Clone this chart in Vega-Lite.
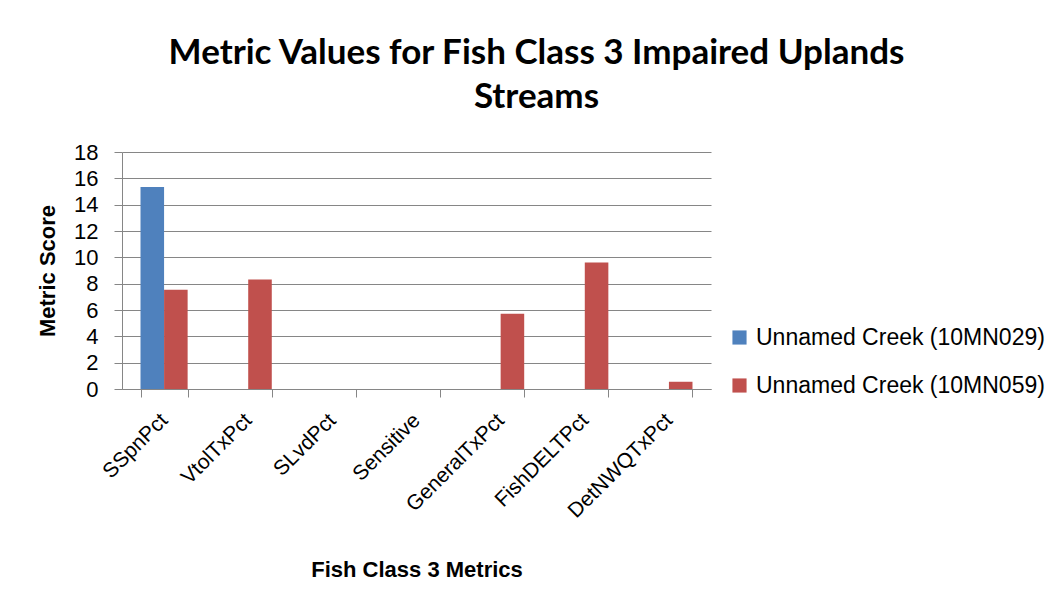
{
  "$schema": "https://vega.github.io/schema/vega-lite/v6.json",
  "autosize": {"type": "none"},
  "padding": {"left": 122, "top": 152, "right": 345, "bottom": 208},
  "width": 589,
  "height": 237,
  "background": "white",
  "title": {
    "text": ["Metric Values for Fish Class 3 Impaired Uplands", "Streams"],
    "font": "Lato",
    "fontWeight": "bold",
    "fontSize": 35,
    "lineHeight": 44,
    "color": "#000000",
    "anchor": "middle",
    "frame": "group",
    "dx": 120,
    "offset": 26
  },
  "data": {
    "values": [
      {"metric": "SSpnPct", "site": "Unnamed Creek (10MN029)", "value": 15.35},
      {"metric": "SSpnPct", "site": "Unnamed Creek (10MN059)", "value": 7.53},
      {"metric": "VtolTxPct", "site": "Unnamed Creek (10MN029)", "value": 0},
      {"metric": "VtolTxPct", "site": "Unnamed Creek (10MN059)", "value": 8.31},
      {"metric": "SLvdPct", "site": "Unnamed Creek (10MN029)", "value": 0},
      {"metric": "SLvdPct", "site": "Unnamed Creek (10MN059)", "value": 0},
      {"metric": "Sensitive", "site": "Unnamed Creek (10MN029)", "value": 0},
      {"metric": "Sensitive", "site": "Unnamed Creek (10MN059)", "value": 0},
      {"metric": "GeneralTxPct", "site": "Unnamed Creek (10MN029)", "value": 0},
      {"metric": "GeneralTxPct", "site": "Unnamed Creek (10MN059)", "value": 5.71},
      {"metric": "FishDELTPct", "site": "Unnamed Creek (10MN029)", "value": 0},
      {"metric": "FishDELTPct", "site": "Unnamed Creek (10MN059)", "value": 9.6},
      {"metric": "DetNWQTxPct", "site": "Unnamed Creek (10MN029)", "value": 0},
      {"metric": "DetNWQTxPct", "site": "Unnamed Creek (10MN059)", "value": 0.55}
    ]
  },
  "mark": {"type": "bar"},
  "encoding": {
    "x": {
      "field": "metric",
      "type": "nominal",
      "sort": ["SSpnPct", "VtolTxPct", "SLvdPct", "Sensitive", "GeneralTxPct", "FishDELTPct", "DetNWQTxPct"],
      "scale": {"paddingInner": 0.44, "paddingOuter": 0.22},
      "axis": {
        "title": "Fish Class 3 Metrics",
        "titleFont": "Liberation Sans",
        "titleFontWeight": "bold",
        "titleFontSize": 22,
        "titleColor": "#000000",
        "titlePadding": 38,
        "labelAngle": -45,
        "labelAlign": "right",
        "labelBaseline": "middle",
        "labelFont": "Liberation Sans",
        "labelFontSize": 21,
        "labelColor": "#000000",
        "labelPadding": 20,
        "tickBand": "extent",
        "tickSize": 8,
        "tickColor": "#868686",
        "domainColor": "#868686",
        "grid": false
      }
    },
    "xOffset": {"field": "site", "type": "nominal"},
    "y": {
      "field": "value",
      "type": "quantitative",
      "scale": {"domain": [0, 18], "nice": false},
      "axis": {
        "title": "Metric Score",
        "titleFont": "Liberation Sans",
        "titleFontWeight": "bold",
        "titleFontSize": 22,
        "titleColor": "#000000",
        "titlePadding": 14,
        "values": [0, 2, 4, 6, 8, 10, 12, 14, 16, 18],
        "labelFont": "Liberation Sans",
        "labelFontSize": 22,
        "labelColor": "#000000",
        "labelPadding": 16,
        "tickSize": 8,
        "tickColor": "#868686",
        "domainColor": "#868686",
        "grid": true,
        "gridColor": "#868686",
        "gridWidth": 1
      }
    },
    "color": {
      "field": "site",
      "type": "nominal",
      "scale": {"domain": ["Unnamed Creek (10MN029)", "Unnamed Creek (10MN059)"], "range": ["#4F81BD", "#C0504D"]},
      "legend": {
        "title": null,
        "orient": "none",
        "legendX": 606,
        "legendY": 174,
        "padding": 0,
        "symbolType": "square",
        "symbolSize": 200,
        "symbolStrokeWidth": 0,
        "symbolOpacity": 1,
        "labelFont": "Liberation Sans",
        "labelFontSize": 23,
        "labelColor": "#000000",
        "labelOffset": 5,
        "labelLimit": 400,
        "rowPadding": 24
      }
    }
  },
  "config": {
    "view": {"stroke": null},
    "axis": {"domainWidth": 1, "tickWidth": 1}
  }
}
